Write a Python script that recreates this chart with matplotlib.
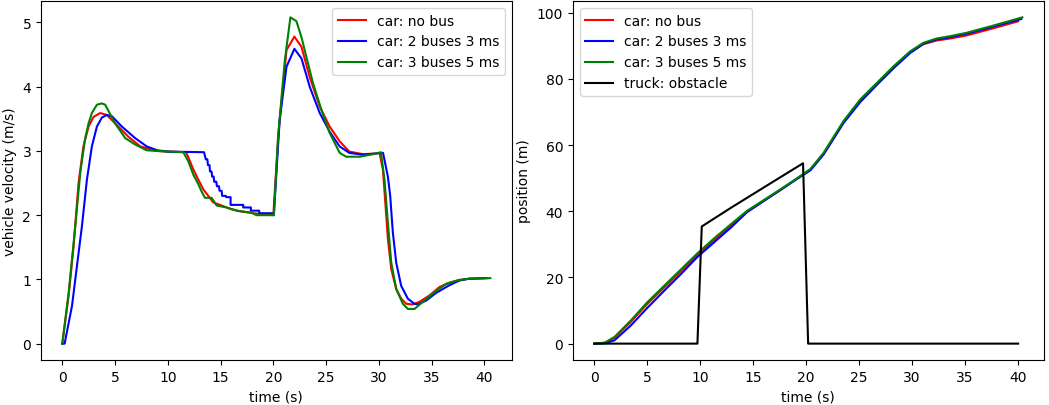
import matplotlib

matplotlib.use("Agg")
import matplotlib.pyplot as plt

# velocity, car without bus
vel_t_nobus = [0, 0.6, 1.07, 1.54, 2.0, 2.49, 2.96, 3.59, 4.22, 5.0,
               6.27, 7.4, 8.9, 10.0, 11.73, 12.05, 12.42, 12.9, 13.37, 13.84,
               14.3, 14.94, 15.89, 16.83, 18.1, 20.0, 20.5, 21.25, 22.0, 22.67,
               23.45, 24.4, 25.34, 26.29, 27.2, 28.5, 29.7, 30.07, 30.39, 30.64,
               30.86, 31.18, 31.65, 32.12, 32.6, 33.2, 33.85, 34.8, 35.74, 36.7,
               37.6, 38.5, 40.1]
vel_nobus = [0, 0.75, 1.52, 2.5, 3.07, 3.38, 3.53, 3.59, 3.56, 3.43,
             3.22, 3.07, 3.0, 2.99, 2.98, 2.86, 2.71, 2.55, 2.4, 2.3,
             2.2, 2.16, 2.1, 2.06, 2.03, 2.0, 3.3, 4.57, 4.78, 4.62,
             4.15, 3.69, 3.38, 3.15, 2.99, 2.95, 2.96, 2.97, 2.71, 2.14,
             1.63, 1.16, 0.85, 0.7, 0.62, 0.61, 0.65, 0.75, 0.88, 0.95,
             0.99, 1.01, 1.02]

# velocity, 2 buses 3 ms (staircase while braking)
vel_t_2bus = [0, 0.22, 0.92, 1.39, 1.86, 2.33, 2.8, 3.28, 3.75, 4.22,
              4.7, 5.64, 6.9, 8.0, 9.0, 10.0, 13.43, 13.6, 13.75, 13.8,
              13.95, 14.0, 14.15, 14.2, 14.35, 14.4, 14.6, 14.65, 14.85, 14.9,
              15.1, 15.15, 15.5, 15.55, 15.95, 15.95, 17.15, 17.15, 17.87, 17.87,
              18.66, 18.66, 19.98, 20.05, 20.6, 21.25, 22.0, 22.67, 23.45, 24.4,
              25.34, 26.29, 27.2, 28.5, 29.7, 30.4, 30.86, 31.08, 31.33, 31.65,
              32.12, 32.75, 33.38, 33.7, 34.49, 35.43, 36.7, 37.6, 38.5, 40.3]
vel_2bus = [0, 0, 0.59, 1.21, 1.83, 2.55, 3.07, 3.38, 3.52, 3.56,
            3.54, 3.38, 3.2, 3.07, 3.01, 2.99, 2.98, 2.87, 2.87, 2.78,
            2.78, 2.68, 2.68, 2.6, 2.6, 2.52, 2.52, 2.45, 2.45, 2.38,
            2.38, 2.3, 2.3, 2.28, 2.28, 2.16, 2.16, 2.12, 2.12, 2.07,
            2.07, 2.03, 2.03, 2.0, 3.48, 4.31, 4.59, 4.44, 4.0, 3.59,
            3.3, 3.07, 2.97, 2.94, 2.96, 2.97, 2.6, 2.3, 1.73, 1.26,
            0.9, 0.7, 0.62, 0.61, 0.67, 0.79, 0.91, 0.98, 1.01, 1.02]

# velocity, 3 buses 5 ms
vel_t_3bus = [0, 0.6, 1.23, 1.7, 2.17, 2.49, 2.8, 3.28, 3.75, 4.06,
              5.0, 5.96, 6.9, 8.0, 10.0, 11.47, 11.94, 12.42, 12.9, 13.2,
              13.52, 14.15, 14.63, 15.57, 16.52, 17.93, 18.4, 20.05, 20.45, 21.09,
              21.62, 22.19, 22.67, 23.14, 23.77, 24.56, 25.34, 26.29, 26.9, 28.2,
              29.5, 30.2, 30.54, 30.86, 31.18, 31.65, 32.28, 32.75, 33.38, 34.17,
              35.27, 36.38, 37.6, 38.6, 40.57]
vel_3bus = [0, 0.79, 1.83, 2.66, 3.2, 3.43, 3.59, 3.72, 3.74, 3.72,
            3.43, 3.2, 3.1, 3.01, 2.99, 2.98, 2.84, 2.63, 2.48, 2.37,
            2.27, 2.27, 2.15, 2.12, 2.07, 2.04, 2.0, 2.0, 3.22, 4.41,
            5.08, 5.02, 4.77, 4.46, 4.05, 3.64, 3.28, 2.97, 2.91, 2.91,
            2.95, 2.98, 2.55, 1.88, 1.26, 0.85, 0.62, 0.54, 0.54, 0.65,
            0.8, 0.93, 0.99, 1.01, 1.02]

# positions
pos_t = [0, 1.0, 1.9, 3.45, 5.0, 6.6, 8.2, 9.7, 11.3, 12.9,
         14.4, 16.0, 17.6, 19.1, 20.4, 21.65, 23.53, 25.1, 26.67, 28.24,
         29.8, 31.06, 32.3, 33.57, 35.1, 37.65]
pos_end_nobus, pos_end_2bus, pos_end_3bus = 40.0, 40.3, 40.4
pos_nobus = [0, 0.25, 1.8, 6.6, 12.0, 17.0, 22.0, 26.7, 31.3, 35.7,
             39.8, 43.2, 46.5, 49.8, 52.5, 57.4, 67.0, 73.4, 78.5, 83.5,
             88.0, 90.5, 91.6, 92.2, 93.1, 95.3, 97.4]
pos_2bus = [0, 0.1, 1.0, 5.5, 10.8, 16.0, 21.1, 26.1, 30.6, 35.1,
            39.7, 43.1, 46.5, 49.7, 52.4, 57.2, 66.7, 73.0, 78.2, 83.2,
            87.8, 90.6, 91.9, 92.6, 93.6, 95.8, 98.1]
pos_3bus = [0, 0.3, 2.0, 7.0, 12.5, 17.5, 22.5, 27.2, 31.8, 36.1,
            40.1, 43.4, 46.7, 49.9, 52.8, 57.7, 67.3, 73.8, 78.8, 83.8,
            88.3, 90.9, 92.2, 92.9, 93.9, 96.1, 98.6]

truck_t = [0, 9.73, 10.14, 12.87, 16.0, 19.7, 20.18, 40.0]
truck_pos = [0, 0, 35.4, 41.0, 47.2, 54.5, 0, 0]

fig, (ax1, ax2) = plt.subplots(1, 2, figsize=(10.49, 4.06), dpi=100)
fig.subplots_adjust(left=0.039, right=0.995, bottom=0.111, top=0.995, wspace=0.13)

ax1.plot(vel_t_nobus, vel_nobus, color="red", label="car: no bus")
ax1.plot(vel_t_2bus, vel_2bus, color="blue", label="car: 2 buses 3 ms")
ax1.plot(vel_t_3bus, vel_3bus, color="green", label="car: 3 buses 5 ms")
ax1.set_xlabel("time (s)")
ax1.set_ylabel("vehicle velocity (m/s)")
ax1.legend(loc="upper right")

ax2.plot(pos_t + [pos_end_nobus], pos_nobus, color="red", label="car: no bus")
ax2.plot(pos_t + [pos_end_2bus], pos_2bus, color="blue", label="car: 2 buses 3 ms")
ax2.plot(pos_t + [pos_end_3bus], pos_3bus, color="green", label="car: 3 buses 5 ms")
ax2.plot(truck_t, truck_pos, color="black", label="truck: obstacle")
ax2.set_xlabel("time (s)")
ax2.set_ylabel("position (m)")
ax2.legend(loc="upper left")

fig.savefig("out.png", dpi=100)
